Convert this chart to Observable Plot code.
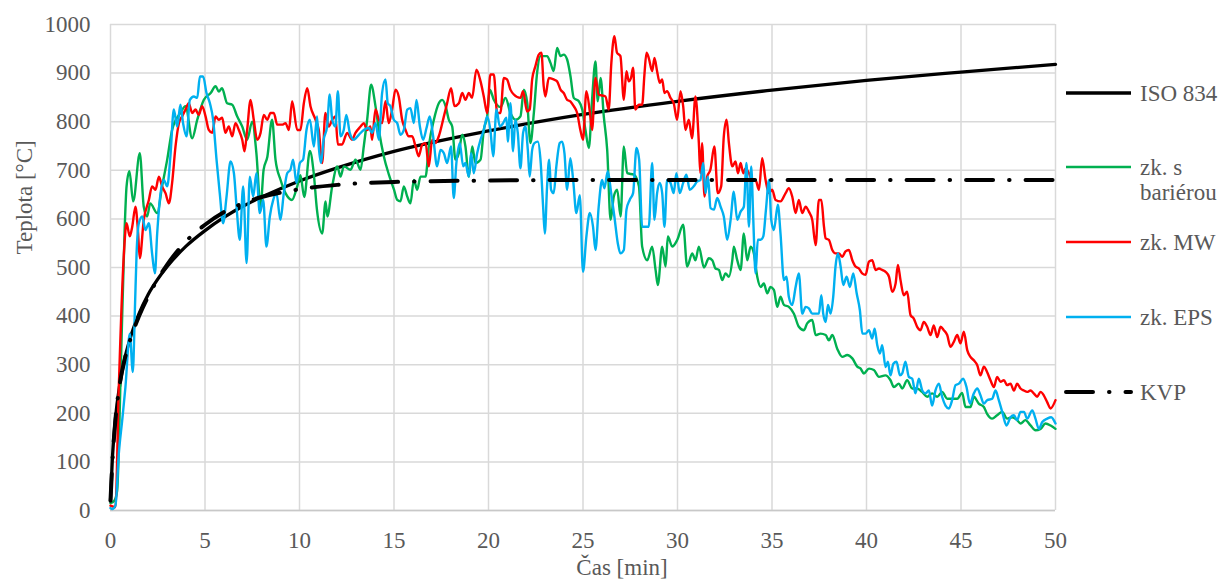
<!DOCTYPE html>
<html><head><meta charset="utf-8">
<script src="https://cdn.jsdelivr.net/npm/d3@7"></script>
<script src="https://cdn.jsdelivr.net/npm/@observablehq/plot@0.6"></script>
<style>
body{margin:0;background:#fff;}
#chart{width:1223px;height:582px;overflow:hidden;}
#chart svg text{font-family:"Liberation Serif","Times New Roman",serif !important;font-variant:normal !important;}
</style></head><body><div id="chart"></div>
<script>
const FONT = '"Liberation Serif","Times New Roman",serif';
const TEXT = "#595959";

const xTicks = [0,5,10,15,20,25,30,35,40,45,50];
const yTicks = [0,100,200,300,400,500,600,700,800,900,1000];

const seriesNames = ["ISO 834","zk. s bariérou","zk. MW","zk. EPS","KVP"];
const seriesColors = ["#000000","#00b050","#ff0000","#00b0f0","#000000"];

// ISO 834
const isoT = [0,0.1,0.25,0.5,0.75,1,1.5,2,2.5,3,4,5,6,7,8,10,12,15,20,25,30,35,40,45,50];
const isoV = [20,108,185,261,312,349,404,445,476,502,544,576,603,626,645,678,705,739,781,815,842,865,885,902,918];

// KVP
const kvpT = [0,0.1,0.25,0.5,0.75,1,1.5,2,2.5,3,4,5,6,7,8,10,12,15,20,25,30,35,40,45,50];
const kvpV = [20,100,182,263,311,346,399,441,476,506,554,588,614,632,645,661,670,676,679,680,680,680,680,680,680];

// zk. s bariérou (green)
const barT = [0,0.2,0.35,0.55,0.75,0.85,1.0,1.2,1.55,1.76,1.94,2.1,2.47,2.73,3.0,3.26,3.7,3.97,4.32,4.59,4.94,5.3,5.56,5.73,5.9,6.17,6.44,6.7,6.97,7.23,7.5,7.72,7.94,8.1,8.3,8.55,8.73,9.0,9.26,9.6,9.88,10.05,10.25,10.55,10.75,10.92,11.2,11.38,11.47,11.73,12.0,12.17,12.35,12.7,12.96,13.23,13.4,13.58,13.79,14.02,14.2,14.46,14.73,15.0,15.17,15.34,15.52,15.7,15.87,16.05,16.23,16.4,16.67,16.84,17.11,17.37,17.55,17.73,17.9,18.08,18.25,18.43,18.61,18.78,18.96,19.14,19.31,19.58,19.75,19.93,20.07,20.28,20.63,20.9,21.16,21.43,21.69,21.87,22.05,22.22,22.4,22.57,22.75,23.1,23.28,23.45,23.63,23.81,23.98,24.16,24.34,24.51,24.78,24.96,25.13,25.31,25.48,25.66,25.78,25.93,26.1,26.28,26.46,26.63,26.81,26.99,27.16,27.34,27.69,27.96,28.13,28.4,28.66,28.84,28.96,29.19,29.37,29.49,29.72,29.99,30.3,30.51,30.78,30.95,31.13,31.4,31.66,31.84,32.01,32.19,32.37,32.54,32.72,32.9,32.98,33.16,33.34,33.51,33.69,33.87,34.04,34.22,34.4,34.57,34.75,34.92,35.1,35.28,35.45,35.63,35.89,36.16,36.42,36.69,36.86,37.13,37.31,37.57,37.84,38.01,38.19,38.45,38.72,38.98,39.25,39.51,39.69,39.86,40.13,40.39,40.66,41.0,41.27,41.45,41.71,41.89,42.15,42.42,42.68,42.94,43.21,43.47,43.74,44.0,44.27,44.53,44.8,45.06,45.24,45.5,45.68,45.94,46.21,46.38,46.65,46.91,47.18,47.44,47.71,47.97,48.15,48.41,48.68,48.94,49.21,49.47,49.74,50.0];
const barV = [15,20,40,300,580,667,698,636,735,625,605,632,612,667,722,783,818,832,766,804,845,859,873,862,869,838,835,811,790,763,800,735,625,701,728,804,722,680,653,639,667,690,645,740,695,620,570,636,605,667,708,687,708,701,722,701,749,804,876,832,783,729,691,660,639,636,667,646,632,680,660,687,687,749,804,838,845,832,804,790,722,735,773,749,687,749,715,722,783,811,866,845,830,849,818,804,811,866,838,756,818,900,935,935,921,904,952,935,938,928,893,849,842,825,783,746,845,924,842,890,811,742,598,646,660,605,749,694,691,667,543,515,543,495,464,543,502,564,543,557,588,502,529,515,543,500,519,515,498,495,474,488,481,515,543,515,495,570,515,543,529,481,460,467,447,460,454,419,440,423,419,405,378,371,385,392,361,364,361,350,361,333,316,320,313,296,292,282,292,289,275,278,268,254,261,251,268,251,251,244,234,241,234,244,230,230,230,242,213,213,234,220,213,199,189,196,203,189,192,186,179,186,175,165,168,179,175,168];

// zk. MW (red)
const mwT = [0,0.26,0.44,0.71,0.85,1.02,1.15,1.32,1.45,1.55,1.76,2.03,2.2,2.38,2.56,2.73,2.91,3.09,3.26,3.44,3.62,3.79,3.97,4.14,4.32,4.5,4.67,4.85,5.03,5.2,5.38,5.56,5.73,5.91,6.08,6.26,6.44,6.61,6.79,6.97,7.09,7.23,7.41,7.58,7.76,7.94,8.11,8.29,8.47,8.64,8.82,9.08,9.26,9.44,9.61,9.88,10.05,10.23,10.41,10.58,10.85,11.02,11.2,11.37,11.55,11.73,11.9,12.03,12.25,12.52,12.78,12.96,13.23,13.4,13.58,13.75,13.84,14.02,14.2,14.37,14.55,14.72,14.9,15.08,15.25,15.43,15.61,15.78,15.96,16.14,16.31,16.49,16.67,16.84,17.02,17.19,17.37,17.64,17.81,18.02,18.2,18.43,18.61,18.78,18.96,19.13,19.36,19.58,19.75,19.93,20.1,20.28,20.46,20.63,20.81,20.98,21.16,21.34,21.69,21.83,22.04,22.18,22.31,22.48,22.66,22.8,22.92,23.01,23.19,23.45,23.63,23.81,23.98,24.16,24.33,24.51,24.69,24.86,25.0,25.18,25.36,25.48,25.66,25.83,26.19,26.36,26.5,26.66,26.8,26.98,27.16,27.3,27.42,27.54,27.65,27.77,27.95,28.13,28.25,28.36,28.48,28.66,28.78,28.92,29.06,29.19,29.31,29.45,29.63,29.8,29.98,30.16,30.3,30.42,30.6,30.77,30.95,31.13,31.21,31.3,31.43,31.57,31.74,31.95,32.13,32.31,32.45,32.6,32.72,32.9,33.07,33.2,33.34,33.48,33.6,33.78,33.95,34.13,34.31,34.48,34.66,34.84,35.01,35.19,35.45,35.72,35.89,36.07,36.25,36.42,36.6,36.78,36.95,37.13,37.31,37.48,37.61,37.75,37.84,38.01,38.19,38.36,38.54,38.72,38.89,39.07,39.25,39.42,39.6,39.77,39.95,40.13,40.3,40.48,40.66,40.83,41.01,41.19,41.36,41.54,41.66,41.8,41.97,42.15,42.33,42.5,42.68,42.86,43.03,43.21,43.39,43.56,43.74,43.92,44.09,44.27,44.44,44.62,44.8,44.97,45.15,45.33,45.5,45.68,45.86,46.03,46.21,46.38,46.56,46.74,46.91,47.09,47.27,47.44,47.62,47.8,47.97,48.15,48.33,48.5,48.68,48.85,49.03,49.21,49.38,49.56,49.74,50.0];
const mwV = [10,7,254,529,591,564,584,625,577,519,598,639,667,660,687,667,653,632,674,749,797,811,825,838,818,825,814,832,811,783,777,811,804,808,777,790,770,797,783,763,739,783,845,804,763,777,814,804,818,818,794,794,797,783,842,783,783,838,869,832,804,783,715,818,790,804,811,753,753,777,763,777,790,797,783,790,763,825,804,797,842,797,825,866,852,804,783,770,770,749,729,753,756,708,763,756,770,811,838,869,832,838,859,845,859,849,907,883,852,818,897,897,818,818,890,887,866,856,849,863,821,825,887,914,938,942,873,852,890,887,883,866,859,845,842,832,818,783,763,863,821,783,890,856,852,825,921,976,942,935,845,904,883,890,911,825,835,835,897,942,931,904,931,904,880,887,859,863,849,838,804,863,832,783,804,766,852,756,694,756,646,687,701,749,653,667,770,804,756,708,718,694,715,694,704,694,680,680,660,725,680,653,660,639,636,653,663,646,612,639,612,625,615,598,546,639,639,584,560,557,536,529,529,522,533,536,515,502,498,488,485,512,515,495,498,495,491,481,450,467,505,474,443,450,402,395,378,371,388,378,361,381,357,378,371,361,337,347,361,344,368,330,316,309,299,278,296,285,268,254,275,265,268,258,261,247,261,251,247,244,247,241,234,244,237,223,210,227];

// zk. EPS (blue)
const epsT = [0,0.09,0.26,0.44,0.62,0.79,1.02,1.18,1.29,1.38,1.5,1.68,1.85,2.03,2.2,2.35,2.47,2.65,2.82,3.0,3.17,3.35,3.53,3.7,3.84,4.02,4.2,4.41,4.59,4.73,4.9,5.08,5.26,5.43,5.61,5.78,5.96,6.14,6.35,6.53,6.67,6.84,7.02,7.2,7.37,7.55,7.72,7.9,8.08,8.25,8.43,8.61,8.78,8.99,9.17,9.35,9.52,9.66,9.84,10.02,10.19,10.37,10.55,10.76,10.93,11.02,11.14,11.28,11.46,11.6,11.73,11.9,12.03,12.17,12.34,12.48,12.66,12.87,13.14,13.4,13.67,13.84,14.02,14.2,14.37,14.55,14.67,14.81,14.99,15.17,15.34,15.52,15.7,15.87,16.05,16.19,16.37,16.54,16.72,16.89,17.07,17.28,17.46,17.64,17.81,18.02,18.16,18.3,18.48,18.66,18.78,18.96,19.08,19.22,19.4,19.58,19.75,19.93,20.1,20.25,20.42,20.6,20.77,20.95,21.02,21.16,21.3,21.42,21.55,21.69,21.83,21.95,22.08,22.18,22.31,22.43,22.61,22.75,22.89,22.98,23.1,23.21,23.31,23.45,23.59,23.77,23.89,24.02,24.16,24.33,24.48,24.65,24.83,25.0,25.18,25.36,25.53,25.66,25.83,26.01,26.13,26.31,26.49,26.66,26.84,26.98,27.16,27.3,27.47,27.65,27.83,27.97,28.13,28.48,28.66,28.78,28.92,29.06,29.19,29.31,29.45,29.63,29.8,29.94,30.12,30.3,30.47,30.65,30.86,31.04,31.21,31.36,31.48,31.61,31.75,31.93,32.1,32.28,32.45,32.63,32.81,32.98,33.16,33.34,33.51,33.65,33.78,33.9,34.01,34.13,34.25,34.4,34.54,34.68,34.84,34.96,35.1,35.31,35.45,35.63,35.77,35.89,36.07,36.25,36.42,36.6,36.78,36.95,37.13,37.31,37.48,37.61,37.71,37.84,37.96,38.1,38.24,38.36,38.49,38.63,38.77,38.95,39.12,39.3,39.48,39.65,39.78,39.95,40.13,40.3,40.43,40.57,40.71,40.83,41.01,41.13,41.27,41.42,41.59,41.77,41.89,42.06,42.24,42.42,42.59,42.77,42.95,43.12,43.3,43.47,43.65,43.83,44.0,44.18,44.36,44.53,44.71,44.89,45.11,45.29,45.47,45.68,45.86,46.03,46.21,46.38,46.65,46.83,47.0,47.18,47.41,47.62,47.8,47.97,48.15,48.33,48.5,48.77,48.94,49.12,49.3,49.56,49.77,50.0];
const epsV = [5,3,10,117,186,254,364,285,412,529,591,605,577,591,529,488,570,653,680,667,729,825,790,835,797,770,845,852,849,893,893,859,838,804,722,653,591,646,718,694,625,557,667,509,687,646,694,612,639,543,605,639,653,598,653,694,701,722,674,715,722,783,804,749,811,749,715,763,790,856,804,790,863,770,783,814,777,763,773,783,787,777,797,763,859,887,838,832,804,797,773,783,825,828,797,845,790,763,787,811,770,708,742,735,715,749,643,715,756,708,715,687,735,694,735,763,783,811,783,729,825,790,797,808,759,838,739,804,777,704,777,790,742,687,742,756,759,722,625,570,667,722,660,653,708,756,759,735,660,725,680,612,649,491,564,612,584,536,625,680,663,698,653,605,550,529,536,619,639,653,746,722,584,584,715,598,653,674,653,584,680,674,653,694,653,674,691,660,667,677,680,715,653,687,622,619,643,625,605,557,598,656,598,615,625,715,584,708,598,488,557,557,564,619,680,598,577,629,570,474,481,440,423,460,488,405,419,416,405,405,405,443,405,388,423,405,440,502,529,502,464,481,460,488,447,412,364,364,371,354,374,340,323,340,295,306,278,302,306,278,282,306,275,271,241,271,247,241,247,216,247,261,234,216,210,227,258,261,271,254,220,241,251,237,220,227,230,247,227,203,175,192,196,186,203,203,189,206,189,168,182,189,192,179];

const rows = (t, v) => t.map((x, i) => ({t: x, v: v[i]}));

const lineOpts = (color, w) => ({x: "t", y: "v", stroke: color, strokeWidth: w, curve: "monotone-x", strokeLinejoin: "round"});
const txt = {fontSize: 23, fill: TEXT, fontFamily: FONT};

const plot = Plot.plot({
  width: 1223, height: 582,
  marginLeft: 110, marginRight: 168, marginTop: 24, marginBottom: 72,
  style: {fontFamily: FONT, fontSize: "23px", color: TEXT, background: "#fff", overflow: "hidden"},
  x: {domain: [0, 50]},
  y: {domain: [0, 1000]},
  marks: [
    Plot.gridX(xTicks, {stroke: "#d9d9d9", strokeOpacity: 1, strokeWidth: 1.5}),
    Plot.gridY(yTicks, {stroke: "#d9d9d9", strokeOpacity: 1, strokeWidth: 1.5}),
    Plot.ruleY([0], {stroke: "#c8c8c8", strokeWidth: 1.5}),
    Plot.axisX(xTicks, {tickSize: 0, tickPadding: 21, label: null, tickFormat: d => String(d), ...txt}),
    Plot.axisY(yTicks, {tickSize: 0, tickPadding: 20, label: null, tickFormat: d => String(d), ...txt}),
    Plot.line(rows(isoT, isoV), lineOpts(seriesColors[0], 3.3)),
    Plot.line(rows(barT, barV), lineOpts(seriesColors[1], 2.4)),
    Plot.line(rows(mwT, mwV), lineOpts(seriesColors[2], 2.4)),
    Plot.line(rows(epsT, epsV), lineOpts(seriesColors[3], 2.4)),
    Plot.line(rows(kvpT, kvpV), {...lineOpts(seriesColors[4], 4), strokeDasharray: "27,16,0.5,16", strokeLinecap: "round"}),
    Plot.text(["Čas [min]"], {frameAnchor: "bottom", dx: 39, dy: 57, lineAnchor: "middle", ...txt}),
    Plot.text(["Teplota [°C]"], {frameAnchor: "left", rotate: -90, dx: -86, dy: -13, lineAnchor: "middle", ...txt})
  ]
});

// legend (drawn into the same svg, on the right side)
const svg = d3.select(plot);
const legendY = [93, 167, 242, 317, 392];
const lg = svg.append("g").attr("font-family", FONT).attr("font-size", 23).attr("fill", TEXT).attr("text-anchor", "start");
seriesNames.forEach((name, i) => {
  const y = legendY[i];
  const ln = lg.append("line").attr("x1", 1066).attr("x2", 1131).attr("y1", y).attr("y2", y)
    .attr("stroke", seriesColors[i]).attr("stroke-width", i === 0 ? 3.5 : 2.4);
  if (i === 4) ln.attr("stroke-dasharray", "27,16,0.5,16").attr("stroke-linecap", "round").attr("stroke-width", 4);
  const parts = name === "zk. s bariérou" ? ["zk. s", "bariérou"] : [name];
  parts.forEach((p, j) => {
    lg.append("text").attr("x", 1140).attr("y", y + j * 25).attr("dy", "0.35em").attr("text-anchor", "start").text(p);
  });
});
svg.selectAll("text").style("font-family", FONT).style("font-variant", "normal");

document.getElementById("chart").appendChild(plot);
</script>
</body></html>
